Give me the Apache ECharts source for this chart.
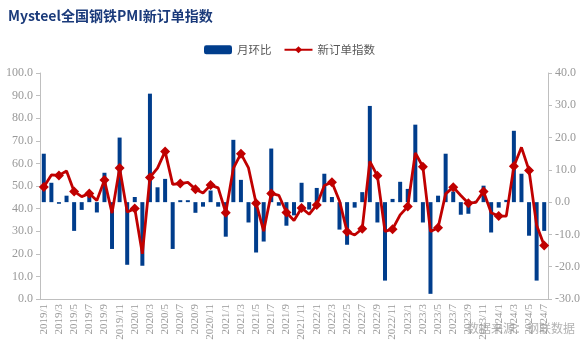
<!DOCTYPE html>
<html>
<head>
<meta charset="utf-8">
<script src="https://cdn.jsdelivr.net/npm/echarts@6/dist/echarts.min.js"></script>
<style>html,body{margin:0;padding:0;background:#fff;}#c{width:586px;height:360px;}</style>
</head>
<body>
<div id="c"></div>
<script>
var categories = [
 "2019/1","2019/2","2019/3","2019/4","2019/5","2019/6","2019/7","2019/8","2019/9","2019/10","2019/11","2019/12",
 "2020/1","2020/2","2020/3","2020/4","2020/5","2020/6","2020/7","2020/8","2020/9","2020/10","2020/11","2020/12",
 "2021/1","2021/2","2021/3","2021/4","2021/5","2021/6","2021/7","2021/8","2021/9","2021/10","2021/11","2021/12",
 "2022/1","2022/2","2022/3","2022/4","2022/5","2022/6","2022/7","2022/8","2022/9","2022/10","2022/11","2022/12",
 "2023/1","2023/2","2023/3","2023/4","2023/5","2023/6","2023/7","2023/8","2023/9","2023/10","2023/11","2023/12",
 "2024/1","2024/2","2024/3","2024/4","2024/5","2024/6","2024/7"
];
// 新订单指数 (left axis)
var newOrderIndex = [
 49.6,54.9,54.7,56.6,47.6,45.3,46.7,43.6,52.6,38.0,58.0,38.5,
 40.0,20.0,53.8,57.9,65.3,50.7,51.1,51.6,48.6,46.9,50.4,49.2,
 38.2,57.8,64.3,58.0,42.4,30.0,46.7,45.9,38.3,34.7,40.3,37.5,
 41.6,50.2,51.7,43.4,29.8,28.3,31.1,60.9,54.5,29.9,30.9,37.2,
 40.9,64.6,58.5,29.9,31.5,46.5,49.5,45.8,42.4,42.8,47.6,38.2,
 36.7,36.7,58.7,67.1,56.9,32.6,23.7
];
// 月环比 (right axis)
var momChange = [
 15.0,6.0,-0.5,2.0,-8.9,-2.4,1.8,-3.2,9.1,-14.5,20.0,-19.4,
 1.6,-19.7,33.6,4.6,7.2,-14.5,0.6,0.6,-3.3,-1.4,3.6,-1.4,
 -10.7,19.3,6.9,-6.3,-15.6,-12.2,16.6,-1.1,-7.3,-4.1,6.0,-2.3,
 4.4,8.8,1.6,-8.5,-13.2,-1.7,3.1,29.8,-6.3,-24.3,1.0,6.3,
 4.1,24.0,-6.3,-28.4,2.0,15.0,3.3,-3.9,-3.6,0.4,5.1,-9.4,
 -1.7,0.7,22.1,8.8,-10.4,-24.3,-8.9
];
var leftTicks = {min:0, max:100, interval:10};
var rightTicks = {min:-30, max:40, interval:10};

var chart = echarts.init(document.getElementById('c'));
var axisFont = '"Liberation Serif","Times New Roman",serif';
chart.setOption({
  animation:false,
  backgroundColor:'#ffffff',
  title:{
    text:'Mysteel全国钢铁PMI新订单指数',
    left:3, top:4,
    textStyle:{color:'#1a3a7a', fontSize:14, fontWeight:'bold', fontFamily:'"Noto Sans CJK SC",sans-serif'}
  },
  legend:{
    left:199, top:39,
    itemWidth:28, itemHeight:9, itemGap:12,
    textStyle:{color:'#595959', fontSize:11.5, fontFamily:'"Noto Sans CJK SC",sans-serif'},
    data:['月环比','新订单指数']
  },
  graphic:[{
    type:'text', left:467, top:322,
    style:{text:'数据来源：钢联数据', fill:'#b3b3b3', fontSize:12, fontFamily:'"Noto Sans CJK SC",sans-serif'}
  }],
  grid:{left:40, right:38, top:73, bottom:61},
  xAxis:{
    type:'category', data:categories, boundaryGap:true,
    axisLine:{lineStyle:{color:'#bfbfbf'}},
    axisTick:{interval:1, length:4, lineStyle:{color:'#bfbfbf'}},
    axisLabel:{interval:1, rotate:90, color:'#999999', fontSize:11, fontFamily:axisFont, margin:5}
  },
  yAxis:[{
    type:'value', min:leftTicks.min, max:leftTicks.max, interval:leftTicks.interval,
    splitLine:{show:false},
    axisLine:{show:true, lineStyle:{color:'#bfbfbf'}},
    axisTick:{show:true, length:4, lineStyle:{color:'#bfbfbf'}},
    axisLabel:{color:'#999999', fontSize:12, fontFamily:axisFont, margin:7, formatter:function(v){return v.toFixed(1);}}
  },{
    type:'value', min:rightTicks.min, max:rightTicks.max, interval:rightTicks.interval,
    splitLine:{show:false},
    axisLine:{show:true, lineStyle:{color:'#bfbfbf'}},
    axisTick:{show:true, length:4, lineStyle:{color:'#bfbfbf'}},
    axisLabel:{color:'#999999', fontSize:12, fontFamily:axisFont, margin:7, formatter:function(v){return v.toFixed(1);}}
  }],
  series:[{
    name:'月环比', type:'bar', yAxisIndex:1, data:momChange,
    barWidth:4, itemStyle:{color:'#003d8c'}, z:2
  },{
    name:'新订单指数', type:'line', yAxisIndex:0, data:newOrderIndex,
    symbol:'diamond', symbolSize:10, showSymbol:true,
    lineStyle:{color:'#c00000', width:2.8},
    itemStyle:{color:'#c00000'}, z:3
  }]
});
</script>
</body>
</html>
